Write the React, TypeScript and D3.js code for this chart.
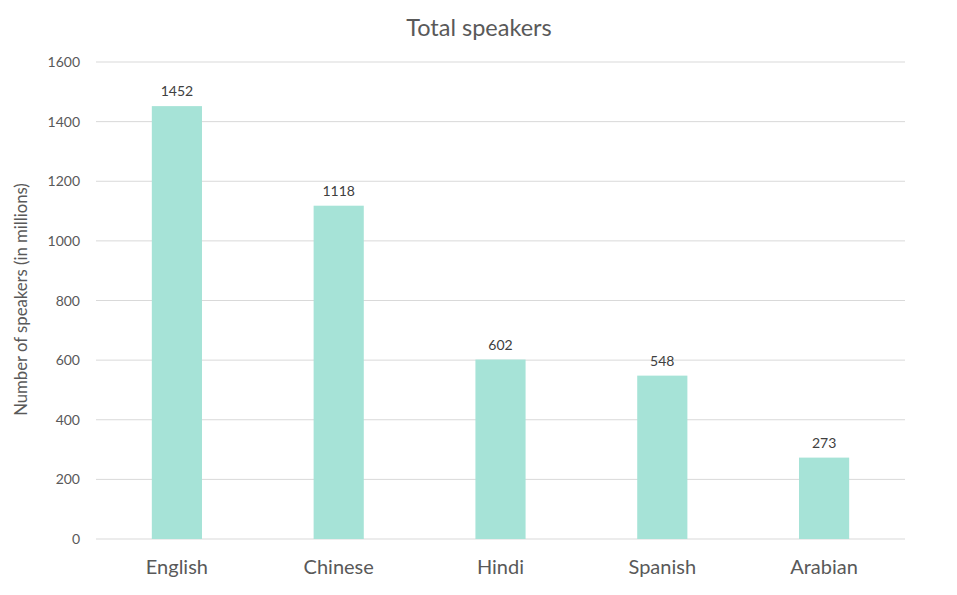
import React from "react";
import * as d3 from "d3";

const categories = ["English", "Chinese", "Hindi", "Spanish", "Arabian"];
const values = [1452, 1118, 602, 548, 273];
const yTicks = [0, 200, 400, 600, 800, 1000, 1200, 1400, 1600];
const title = "Total speakers";
const yTitle = "Number of speakers (in millions)";

const W = 957, H = 595;
const FONT = "Lato, 'Open Sans', sans-serif";

export default function App() {
  const x = d3.scaleBand<string>().domain(categories).range([96, 905]).paddingInner(0.69).paddingOuter(0.345);
  const y = d3.scaleLinear().domain([0, 1600]).range([539, 62]);
  return (
    <svg width={W} height={H} style={{ position: "absolute", left: 0, top: 0, background: "#fff" }}>
      <text x={479} y={36} textAnchor="middle" fontFamily={FONT} fontSize={23.5} fill="#595959">{title}</text>
      {yTicks.map((t) => (
        <g key={t}>
          <line x1={96} x2={905} y1={y(t)} y2={y(t)} stroke="#d9d9d9" strokeWidth={1} />
          <text x={80} y={y(t) + 5} textAnchor="end" fontFamily={FONT} fontSize={14} fill="#595959">{t}</text>
        </g>
      ))}
      {categories.map((c, i) => (
        <g key={c}>
          <rect x={x(c)} y={y(values[i])} width={x.bandwidth()} height={y(0) - y(values[i])} fill="#a6e3d7" />
          <text x={(x(c) as number) + x.bandwidth() / 2} y={y(values[i]) - 10} textAnchor="middle" fontFamily={FONT} fontSize={14} fill="#404040">{values[i]}</text>
          <text x={(x(c) as number) + x.bandwidth() / 2} y={574} textAnchor="middle" fontFamily={FONT} fontSize={20} fill="#595959">{c}</text>
        </g>
      ))}
      <text transform={`translate(27,${y(800) - 1}) rotate(-90)`} textAnchor="middle" fontFamily={FONT} fontSize={16.7} fill="#595959">{yTitle}</text>
    </svg>
  );
}
